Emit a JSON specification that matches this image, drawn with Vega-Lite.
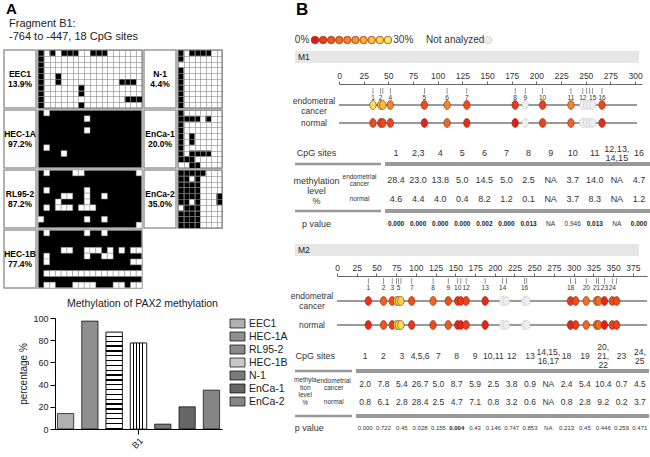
{
"$schema":"https://vega.github.io/schema/vega-lite/v6.json",
"background":"white",
"padding":{"left":3,"top":1,"right":0,"bottom":0},
"config":{"font":"Liberation Sans","view":{"stroke":null},"concat":{"spacing":0},"axis":{"labelFont":"Liberation Sans","titleFont":"Liberation Sans"},"legend":{"labelFont":"Liberation Sans"},"title":{"font":"Liberation Sans"}},
"datasets":{
"m1":[
{"site":1,"pos":34.4,"lab":"1","ec":28.4,"nm":4.6},
{"site":2,"pos":42.2,"lab":"2","ec":23.0,"nm":4.4},
{"site":3,"pos":44.4,"lab":"","ec":23.0,"nm":4.4},
{"site":4,"pos":52,"lab":"4","ec":13.8,"nm":4.0},
{"site":5,"pos":86.5,"lab":"5","ec":5.0,"nm":0.4},
{"site":6,"pos":109.5,"lab":"6","ec":14.5,"nm":8.2},
{"site":7,"pos":129.5,"lab":"7","ec":5.0,"nm":1.2},
{"site":8,"pos":178.5,"lab":"8","ec":2.5,"nm":0.1},
{"site":9,"pos":188.7,"lab":"9","ec":null,"nm":null},
{"site":10,"pos":206.3,"lab":"10","ec":3.7,"nm":3.7},
{"site":11,"pos":235,"lab":"11","ec":14.0,"nm":8.3},
{"site":12,"pos":247,"lab":"12","ec":null,"nm":null},
{"site":13,"pos":251,"lab":"","ec":null,"nm":null},
{"site":14,"pos":254,"lab":"","ec":null,"nm":null},
{"site":15,"pos":257,"lab":"15","ec":null,"nm":null},
{"site":16,"pos":266.5,"lab":"16","ec":4.7,"nm":1.2}],
"m2":[
{"site":1,"pos":39.7,"lab":"1","ec":2.0,"nm":0.8},
{"site":2,"pos":59,"lab":"2","ec":7.8,"nm":6.1},
{"site":3,"pos":70,"lab":"3","ec":5.4,"nm":2.8},
{"site":4,"pos":75.6,"lab":"","ec":26.7,"nm":28.4},
{"site":5,"pos":78,"lab":"5","ec":26.7,"nm":28.4},
{"site":6,"pos":81,"lab":"","ec":26.7,"nm":28.4},
{"site":7,"pos":94.7,"lab":"7","ec":5.0,"nm":2.5},
{"site":8,"pos":121.8,"lab":"8","ec":8.7,"nm":4.7},
{"site":9,"pos":141,"lab":"9","ec":5.9,"nm":7.1},
{"site":10,"pos":153,"lab":"10","ec":2.5,"nm":0.8},
{"site":11,"pos":157,"lab":"","ec":2.5,"nm":0.8},
{"site":12,"pos":163.7,"lab":"12","ec":3.8,"nm":3.2},
{"site":13,"pos":187.8,"lab":"13","ec":0.9,"nm":0.6},
{"site":14,"pos":210,"lab":"14","ec":null,"nm":null},
{"site":15,"pos":214.8,"lab":"","ec":null,"nm":null},
{"site":16,"pos":237.7,"lab":"16","ec":null,"nm":null},
{"site":17,"pos":240.6,"lab":"","ec":null,"nm":null},
{"site":18,"pos":296,"lab":"18","ec":2.4,"nm":0.8},
{"site":19,"pos":302.5,"lab":"","ec":5.4,"nm":2.8},
{"site":20,"pos":316,"lab":"20","ec":10.4,"nm":9.2},
{"site":21,"pos":329,"lab":"21","ec":10.4,"nm":9.2},
{"site":22,"pos":331.6,"lab":"","ec":10.4,"nm":9.2},
{"site":23,"pos":339,"lab":"23","ec":0.7,"nm":0.2},
{"site":24,"pos":349,"lab":"24","ec":4.5,"nm":3.7},
{"site":25,"pos":354.5,"lab":"","ec":4.5,"nm":3.7}],
"t1":[
{"s":"1","ec":"28.4","nm":"4.6","p":"0.000","b":true},
{"s":"2,3","ec":"23.0","nm":"4.4","p":"0.000","b":true},
{"s":"4","ec":"13.8","nm":"4.0","p":"0.000","b":true},
{"s":"5","ec":"5.0","nm":"0.4","p":"0.000","b":true},
{"s":"6","ec":"14.5","nm":"8.2","p":"0.002","b":true},
{"s":"7","ec":"5.0","nm":"1.2","p":"0.000","b":true},
{"s":"8","ec":"2.5","nm":"0.1","p":"0.013","b":true},
{"s":"9","ec":"NA","nm":"NA","p":"NA","b":false},
{"s":"10","ec":"3.7","nm":"3.7","p":"0.946","b":false},
{"s":"11","ec":"14.0","nm":"8.3","p":"0.013","b":true},
{"s":"12,13,\n14,15","ec":"NA","nm":"NA","p":"NA","b":false},
{"s":"16","ec":"4.7","nm":"1.2","p":"0.000","b":true}],
"t2":[
{"s":"1","ec":"2.0","nm":"0.8","p":"0.000","b":false},
{"s":"2","ec":"7.8","nm":"6.1","p":"0.722","b":false},
{"s":"3","ec":"5.4","nm":"2.8","p":"0.45","b":false},
{"s":"4,5,6","ec":"26.7","nm":"28.4","p":"0.028","b":false},
{"s":"7","ec":"5.0","nm":"2.5","p":"0.155","b":false},
{"s":"8","ec":"8.7","nm":"4.7","p":"0.004","b":true},
{"s":"9","ec":"5.9","nm":"7.1","p":"0.43","b":false},
{"s":"10,11","ec":"2.5","nm":"0.8","p":"0.146","b":false},
{"s":"12","ec":"3.8","nm":"3.2","p":"0.747","b":false},
{"s":"13","ec":"0.9","nm":"0.6","p":"0.853","b":false},
{"s":"14,15,\n16,17","ec":"NA","nm":"NA","p":"NA","b":false},
{"s":"18","ec":"2.4","nm":"0.8","p":"0.213","b":false},
{"s":"19","ec":"5.4","nm":"2.8","p":"0.45","b":false},
{"s":"20,\n21,\n22","ec":"10.4","nm":"9.2","p":"0.446","b":false},
{"s":"23","ec":"0.7","nm":"0.2","p":"0.259","b":false},
{"s":"24,\n25","ec":"4.5","nm":"3.7","p":"0.471","b":false}]
},
"spacing":2,
"resolve":{"scale":{"color":"independent"},"legend":{"color":"independent"}},
"hconcat":[
{
"spacing":9,
"resolve":{"scale":{"color":"independent"},"legend":{"color":"independent"}},
"vconcat":[
{"spacing":0,"vconcat":[
{"width":219,"height":48,"data":{"values":[{}]},
"layer":[
{"mark":{"type":"text","fontSize":15,"fontWeight":"bold","align":"left","color":"black"},"encoding":{"x":{"datum":2,"type":"quantitative","scale":{"domain":[0,219],"nice":false,"zero":false},"axis":null},"y":{"datum":8,"type":"quantitative","scale":{"domain":[0,48],"reverse":true,"nice":false,"zero":false},"axis":null},"text":{"value":"A"}}},
{"mark":{"type":"text","fontSize":11,"align":"left","color":"#222"},"encoding":{"x":{"datum":5,"type":"quantitative","axis":null},"y":{"datum":22.5,"type":"quantitative","axis":null},"text":{"value":"Fragment B1:"}}},
{"mark":{"type":"text","fontSize":11,"align":"left","color":"#222"},"encoding":{"x":{"datum":5,"type":"quantitative","axis":null},"y":{"datum":36,"type":"quantitative","axis":null},"text":{"value":"-764 to -447, 18 CpG sites"}}}
]},
{"spacing":0,"hconcat":[
{"spacing":0,"vconcat":[
{"spacing":0,"hconcat":[
{"width":32,"height":58,"view":{"stroke":"#999","strokeWidth":1.5},"data":{"values":[{"t":"EEC1\n13.9%"}]},"mark":{"type":"text","lineBreak":"\n","fontWeight":"bold","fontSize":8.5,"lineHeight":10,"color":"black","dy":-5},"encoding":{"text":{"field":"t"}}},
{"width":104,"height":58,"view":{"stroke":"#999","strokeWidth":1.5},
"data":{"values":[{"c":1,"r":1},{"c":1,"r":2},{"c":1,"r":3},{"c":1,"r":4},{"c":1,"r":5},{"c":1,"r":6},{"c":1,"r":7},{"c":1,"r":8},{"c":1,"r":9},{"c":1,"r":10},{"c":3,"r":1},{"c":5,"r":1},{"c":6,"r":1},{"c":7,"r":1},{"c":10,"r":1},{"c":11,"r":1},{"c":12,"r":1},{"c":4,"r":5},{"c":4,"r":6},{"c":15,"r":6},{"c":16,"r":6},{"c":17,"r":6},{"c":8,"r":7},{"c":8,"r":8},{"c":16,"r":9},{"c":17,"r":9},{"c":18,"r":9},{"c":8,"r":10}]},
"mark":{"type":"rect","fill":"black"},
"encoding":{"x":{"field":"c","type":"ordinal","scale":{"domain":[1,2,3,4,5,6,7,8,9,10,11,12,13,14,15,16,17,18],"paddingInner":0,"paddingOuter":0},"axis":{"grid":true,"tickBand":"extent","labels":false,"ticks":false,"domain":false,"title":null,"gridColor":"#888","gridWidth":0.6}},
"y":{"field":"r","type":"ordinal","scale":{"domain":[1,2,3,4,5,6,7,8,9,10],"paddingInner":0,"paddingOuter":0},"axis":{"grid":true,"tickBand":"extent","labels":false,"ticks":false,"domain":false,"title":null,"gridColor":"#888","gridWidth":0.6}}}}
]},
{"spacing":0,"hconcat":[
{"width":32,"height":58,"view":{"stroke":"#999","strokeWidth":1.5},"data":{"values":[{"t":"HEC-1A\n97.2%"}]},"mark":{"type":"text","lineBreak":"\n","fontWeight":"bold","fontSize":8.5,"lineHeight":10,"color":"black","dy":-5},"encoding":{"text":{"field":"t"}}},
{"width":104,"height":58,"view":{"stroke":"#999","strokeWidth":1.5,"fill":"black"},
"data":{"values":[{"c":2,"r":1},{"c":9,"r":2},{"c":9,"r":4},{"c":2,"r":7},{"c":5,"r":8}]},
"mark":{"type":"rect","fill":"white","stroke":"#999","strokeWidth":0.5},
"encoding":{"x":{"field":"c","type":"ordinal","scale":{"domain":[1,2,3,4,5,6,7,8,9,10,11,12,13,14,15,16,17,18],"paddingInner":0,"paddingOuter":0},"axis":null},
"y":{"field":"r","type":"ordinal","scale":{"domain":[1,2,3,4,5,6,7,8,9,10],"paddingInner":0,"paddingOuter":0},"axis":null}}}
]},
{"spacing":0,"hconcat":[
{"width":32,"height":58,"view":{"stroke":"#999","strokeWidth":1.5},"data":{"values":[{"t":"RL95-2\n87.2%"}]},"mark":{"type":"text","lineBreak":"\n","fontWeight":"bold","fontSize":8.5,"lineHeight":10,"color":"black","dy":-5},"encoding":{"text":{"field":"t"}}},
{"width":104,"height":58,"view":{"stroke":"#999","strokeWidth":1.5,"fill":"black"},
"data":{"values":[{"c":2,"r":1},{"c":7,"r":1},{"c":8,"r":1},{"c":18,"r":1},{"c":2,"r":4},{"c":9,"r":4},{"c":5,"r":5},{"c":6,"r":5},{"c":9,"r":5},{"c":12,"r":5},{"c":4,"r":6},{"c":9,"r":6},{"c":2,"r":7},{"c":4,"r":7},{"c":5,"r":7},{"c":6,"r":7},{"c":8,"r":7},{"c":9,"r":7},{"c":10,"r":7},{"c":1,"r":9},{"c":9,"r":9},{"c":12,"r":9},{"c":18,"r":10}]},
"mark":{"type":"rect","fill":"white","stroke":"#999","strokeWidth":0.5},
"encoding":{"x":{"field":"c","type":"ordinal","scale":{"domain":[1,2,3,4,5,6,7,8,9,10,11,12,13,14,15,16,17,18],"paddingInner":0,"paddingOuter":0},"axis":null},
"y":{"field":"r","type":"ordinal","scale":{"domain":[1,2,3,4,5,6,7,8,9,10],"paddingInner":0,"paddingOuter":0},"axis":null}}}
]},
{"spacing":0,"hconcat":[
{"width":32,"height":58,"view":{"stroke":"#999","strokeWidth":1.5},"data":{"values":[{"t":"HEC-1B\n77.4%"}]},"mark":{"type":"text","lineBreak":"\n","fontWeight":"bold","fontSize":8.5,"lineHeight":10,"color":"black","dy":-5},"encoding":{"text":{"field":"t"}}},
{"width":104,"height":58,"view":{"stroke":"#999","strokeWidth":1.5,"fill":"black"},
"data":{"values":[{"c":2,"r":1},{"c":9,"r":1},{"c":12,"r":1},
{"c":5,"r":4},{"c":6,"r":4},{"c":9,"r":4},{"c":10,"r":4},{"c":11,"r":4},{"c":13,"r":4},{"c":15,"r":4},{"c":17,"r":4},{"c":18,"r":4},
{"c":2,"r":5},{"c":9,"r":5},{"c":12,"r":5},{"c":13,"r":5},
{"c":2,"r":6},{"c":17,"r":6},{"c":18,"r":6},
{"c":2,"r":8},{"c":3,"r":8},{"c":4,"r":8},{"c":5,"r":8},{"c":6,"r":8},{"c":7,"r":8},{"c":8,"r":8},{"c":9,"r":8},{"c":10,"r":8},{"c":11,"r":8},{"c":12,"r":8},{"c":13,"r":8},{"c":14,"r":8},{"c":15,"r":8},{"c":16,"r":8},{"c":17,"r":8},{"c":18,"r":8},
{"c":2,"r":10},{"c":3,"r":10},{"c":7,"r":10},{"c":8,"r":10},{"c":9,"r":10},{"c":10,"r":10},{"c":14,"r":10},{"c":15,"r":10},{"c":17,"r":10},{"c":18,"r":10}]},
"mark":{"type":"rect","fill":"white","stroke":"#999","strokeWidth":0.5},
"encoding":{"x":{"field":"c","type":"ordinal","scale":{"domain":[1,2,3,4,5,6,7,8,9,10,11,12,13,14,15,16,17,18],"paddingInner":0,"paddingOuter":0},"axis":null},
"y":{"field":"r","type":"ordinal","scale":{"domain":[1,2,3,4,5,6,7,8,9,10],"paddingInner":0,"paddingOuter":0},"axis":null}}}
]}
]},
{"spacing":0,"vconcat":[
{"spacing":0,"hconcat":[
{"width":32,"height":58,"view":{"stroke":"#999","strokeWidth":1.5},"data":{"values":[{"t":"N-1\n4.4%"}]},"mark":{"type":"text","lineBreak":"\n","fontWeight":"bold","fontSize":8.5,"lineHeight":10,"color":"black","dy":-5},"encoding":{"text":{"field":"t"}}},
{"width":44,"height":58,"view":{"stroke":"#999","strokeWidth":1.5},
"data":{"values":[{"c":1,"r":1},{"c":1,"r":2},{"c":1,"r":4},{"c":1,"r":5},{"c":1,"r":6},{"c":1,"r":7},{"c":1,"r":8},{"c":1,"r":9},{"c":1,"r":10},{"c":3,"r":1},{"c":4,"r":1},{"c":5,"r":1},{"c":6,"r":1}]},
"mark":{"type":"rect","fill":"black"},
"encoding":{"x":{"field":"c","type":"ordinal","scale":{"domain":[1,2,3,4,5,6,7,8],"paddingInner":0,"paddingOuter":0},"axis":{"grid":true,"tickBand":"extent","labels":false,"ticks":false,"domain":false,"title":null,"gridColor":"#888","gridWidth":0.6}},
"y":{"field":"r","type":"ordinal","scale":{"domain":[1,2,3,4,5,6,7,8,9,10],"paddingInner":0,"paddingOuter":0},"axis":{"grid":true,"tickBand":"extent","labels":false,"ticks":false,"domain":false,"title":null,"gridColor":"#888","gridWidth":0.6}}}}
]},
{"spacing":0,"hconcat":[
{"width":32,"height":58,"view":{"stroke":"#999","strokeWidth":1.5},"data":{"values":[{"t":"EnCa-1\n20.0%"}]},"mark":{"type":"text","lineBreak":"\n","fontWeight":"bold","fontSize":8.5,"lineHeight":10,"color":"black","dy":-5},"encoding":{"text":{"field":"t"}}},
{"width":44,"height":58,"view":{"stroke":"#999","strokeWidth":1.5},
"data":{"values":[{"c":1,"r":1},{"c":1,"r":2},{"c":1,"r":3},{"c":1,"r":4},{"c":1,"r":5},{"c":1,"r":6},{"c":1,"r":7},{"c":1,"r":8},{"c":1,"r":9},{"c":2,"r":2},{"c":3,"r":2},{"c":4,"r":2},{"c":6,"r":2},{"c":3,"r":5},{"c":3,"r":6},{"c":3,"r":8},{"c":4,"r":8},{"c":5,"r":8},{"c":6,"r":8},{"c":2,"r":9},{"c":3,"r":9},{"c":3,"r":10},{"c":4,"r":10}]},
"mark":{"type":"rect","fill":"black"},
"encoding":{"x":{"field":"c","type":"ordinal","scale":{"domain":[1,2,3,4,5,6,7,8],"paddingInner":0,"paddingOuter":0},"axis":{"grid":true,"tickBand":"extent","labels":false,"ticks":false,"domain":false,"title":null,"gridColor":"#888","gridWidth":0.6}},
"y":{"field":"r","type":"ordinal","scale":{"domain":[1,2,3,4,5,6,7,8,9,10],"paddingInner":0,"paddingOuter":0},"axis":{"grid":true,"tickBand":"extent","labels":false,"ticks":false,"domain":false,"title":null,"gridColor":"#888","gridWidth":0.6}}}}
]},
{"spacing":0,"hconcat":[
{"width":32,"height":58,"view":{"stroke":"#999","strokeWidth":1.5},"data":{"values":[{"t":"EnCa-2\n35.0%"}]},"mark":{"type":"text","lineBreak":"\n","fontWeight":"bold","fontSize":8.5,"lineHeight":10,"color":"black","dy":-5},"encoding":{"text":{"field":"t"}}},
{"width":44,"height":58,"view":{"stroke":"#999","strokeWidth":1.5},
"data":{"values":[{"c":1,"r":1},{"c":1,"r":2},{"c":1,"r":3},{"c":1,"r":4},{"c":1,"r":5},{"c":1,"r":6},{"c":1,"r":8},{"c":1,"r":9},{"c":1,"r":10},
{"c":2,"r":1},{"c":2,"r":2},{"c":2,"r":3},{"c":2,"r":4},{"c":2,"r":5},{"c":2,"r":6},{"c":2,"r":7},{"c":2,"r":8},{"c":2,"r":9},{"c":2,"r":10},
{"c":3,"r":1},{"c":3,"r":3},{"c":3,"r":4},{"c":3,"r":5},{"c":3,"r":7},{"c":3,"r":8},{"c":3,"r":9},{"c":3,"r":10},
{"c":4,"r":1},{"c":4,"r":2},{"c":4,"r":3},{"c":4,"r":4},{"c":4,"r":5},{"c":4,"r":6},{"c":4,"r":7},{"c":4,"r":8},{"c":4,"r":9},{"c":4,"r":10},
{"c":5,"r":1},{"c":8,"r":5},{"c":8,"r":6}]},
"mark":{"type":"rect","fill":"black"},
"encoding":{"x":{"field":"c","type":"ordinal","scale":{"domain":[1,2,3,4,5,6,7,8],"paddingInner":0,"paddingOuter":0},"axis":{"grid":true,"tickBand":"extent","labels":false,"ticks":false,"domain":false,"title":null,"gridColor":"#888","gridWidth":0.6}},
"y":{"field":"r","type":"ordinal","scale":{"domain":[1,2,3,4,5,6,7,8,9,10],"paddingInner":0,"paddingOuter":0},"axis":{"grid":true,"tickBand":"extent","labels":false,"ticks":false,"domain":false,"title":null,"gridColor":"#888","gridWidth":0.6}}}}
]}
]}
]}
]},
{"spacing":0,
"resolve":{"scale":{"color":"independent"},"legend":{"color":"independent"}},
"hconcat":[
{"width":14,"height":10,"data":{"values":[]},"mark":"point","encoding":{}},
{"width":167,"height":111,
"title":{"text":"Methylation of PAX2 methylation","fontSize":10.5,"fontWeight":"normal","anchor":"start","dx":48,"offset":5,"color":"#222"},
"data":{"values":[{"frag":"B1","cell":"EEC1","v":13.9},{"frag":"B1","cell":"HEC-1A","v":97.2},{"frag":"B1","cell":"RL95-2","v":87.2},{"frag":"B1","cell":"HEC-1B","v":77.4},{"frag":"B1","cell":"N-1","v":4.4},{"frag":"B1","cell":"EnCa-1","v":20.0},{"frag":"B1","cell":"EnCa-2","v":35.0}]},
"encoding":{
"x":{"field":"frag","type":"nominal","scale":{"paddingInner":0,"paddingOuter":0},"axis":{"title":null,"labelAngle":-45,"labelFontSize":9,"labelColor":"#222","domainColor":"black","tickColor":"black","labelPadding":2}},
"xOffset":{"field":"cell","type":"nominal","sort":null,"scale":{"domain":["EEC1","HEC-1A","RL95-2","HEC-1B","N-1","EnCa-1","EnCa-2"],"paddingInner":0.33,"paddingOuter":0.1}},
"y":{"field":"v","type":"quantitative","scale":{"domain":[0,100],"nice":false},"axis":{"title":"percentage %","values":[0,20,40,60,80,100],"grid":false,"labelFontSize":9,"titleFontSize":10,"titleFontWeight":"normal","domainColor":"black","tickColor":"black","labelColor":"#222","titleColor":"#222","titlePadding":4}}},
"layer":[
{"mark":{"type":"bar","stroke":"black","strokeWidth":0.7},
"encoding":{"color":{"field":"cell","type":"nominal","sort":null,
"scale":{"domain":["EEC1","HEC-1A","RL95-2","HEC-1B","N-1","EnCa-1","EnCa-2"],"range":["#b0b0b0","#8f8f8f","#8a8a8a","#c8c8c8","#7a7a7a","#666666","#858585"]},
"legend":{"title":null,"symbolType":"M-1.5,-0.9H1.5V0.9H-1.5Z","symbolSize":100,"labelFontSize":10.5,"labelColor":"#222","rowPadding":0,"offset":10,"labelOffset":6,"symbolStrokeColor":"black","symbolStrokeWidth":0.7}}}},
{"transform":[{"filter":"datum.cell == 'RL95-2'"}],
"mark":{"type":"bar","stroke":"black","strokeWidth":0.7,"fill":{"gradient":"linear","x1":0,"y1":0,"x2":0,"y2":1,"stops":[
{"offset":0,"color":"#fff"},{"offset":0.036,"color":"#fff"},{"offset":0.036,"color":"#000"},{"offset":0.05,"color":"#000"},
{"offset":0.05,"color":"#fff"},{"offset":0.086,"color":"#fff"},{"offset":0.086,"color":"#000"},{"offset":0.1,"color":"#000"},
{"offset":0.1,"color":"#fff"},{"offset":0.136,"color":"#fff"},{"offset":0.136,"color":"#000"},{"offset":0.15,"color":"#000"},
{"offset":0.15,"color":"#fff"},{"offset":0.186,"color":"#fff"},{"offset":0.186,"color":"#000"},{"offset":0.2,"color":"#000"},
{"offset":0.2,"color":"#fff"},{"offset":0.236,"color":"#fff"},{"offset":0.236,"color":"#000"},{"offset":0.25,"color":"#000"},
{"offset":0.25,"color":"#fff"},{"offset":0.286,"color":"#fff"},{"offset":0.286,"color":"#000"},{"offset":0.3,"color":"#000"},
{"offset":0.3,"color":"#fff"},{"offset":0.336,"color":"#fff"},{"offset":0.336,"color":"#000"},{"offset":0.35,"color":"#000"},
{"offset":0.35,"color":"#fff"},{"offset":0.386,"color":"#fff"},{"offset":0.386,"color":"#000"},{"offset":0.4,"color":"#000"},
{"offset":0.4,"color":"#fff"},{"offset":0.436,"color":"#fff"},{"offset":0.436,"color":"#000"},{"offset":0.45,"color":"#000"},
{"offset":0.45,"color":"#fff"},{"offset":0.486,"color":"#fff"},{"offset":0.486,"color":"#000"},{"offset":0.5,"color":"#000"},
{"offset":0.5,"color":"#fff"},{"offset":0.536,"color":"#fff"},{"offset":0.536,"color":"#000"},{"offset":0.55,"color":"#000"},
{"offset":0.55,"color":"#fff"},{"offset":0.586,"color":"#fff"},{"offset":0.586,"color":"#000"},{"offset":0.6,"color":"#000"},
{"offset":0.6,"color":"#fff"},{"offset":0.636,"color":"#fff"},{"offset":0.636,"color":"#000"},{"offset":0.65,"color":"#000"},
{"offset":0.65,"color":"#fff"},{"offset":0.686,"color":"#fff"},{"offset":0.686,"color":"#000"},{"offset":0.7,"color":"#000"},
{"offset":0.7,"color":"#fff"},{"offset":0.736,"color":"#fff"},{"offset":0.736,"color":"#000"},{"offset":0.75,"color":"#000"},
{"offset":0.75,"color":"#fff"},{"offset":0.786,"color":"#fff"},{"offset":0.786,"color":"#000"},{"offset":0.8,"color":"#000"},
{"offset":0.8,"color":"#fff"},{"offset":0.836,"color":"#fff"},{"offset":0.836,"color":"#000"},{"offset":0.85,"color":"#000"},
{"offset":0.85,"color":"#fff"},{"offset":0.886,"color":"#fff"},{"offset":0.886,"color":"#000"},{"offset":0.9,"color":"#000"},
{"offset":0.9,"color":"#fff"},{"offset":0.936,"color":"#fff"},{"offset":0.936,"color":"#000"},{"offset":0.95,"color":"#000"},
{"offset":0.95,"color":"#fff"},{"offset":0.986,"color":"#fff"},{"offset":0.986,"color":"#000"},{"offset":1,"color":"#000"}]}}},
{"transform":[{"filter":"datum.cell == 'HEC-1B'"}],
"mark":{"type":"bar","stroke":"black","strokeWidth":0.7,"fill":{"gradient":"linear","x1":0,"y1":0,"x2":1,"y2":0,"stops":[
{"offset":0,"color":"#fff"},{"offset":0.14,"color":"#fff"},{"offset":0.14,"color":"#000"},{"offset":0.2,"color":"#000"},
{"offset":0.2,"color":"#fff"},{"offset":0.34,"color":"#fff"},{"offset":0.34,"color":"#000"},{"offset":0.4,"color":"#000"},
{"offset":0.4,"color":"#fff"},{"offset":0.54,"color":"#fff"},{"offset":0.54,"color":"#000"},{"offset":0.6,"color":"#000"},
{"offset":0.6,"color":"#fff"},{"offset":0.74,"color":"#fff"},{"offset":0.74,"color":"#000"},{"offset":0.8,"color":"#000"},
{"offset":0.8,"color":"#fff"},{"offset":1,"color":"#fff"}]}}}
]}
]}
]
},
{
"spacing":0,
"vconcat":[
{"width":344,"height":50,
"layer":[
{"data":{"values":[{}]},"mark":{"type":"text","fontSize":17,"fontWeight":"bold","align":"left","color":"black"},"encoding":{"x":{"datum":-2.35,"type":"quantitative","scale":{"domain":[-2.47,40],"nice":false,"zero":false},"axis":null},"y":{"datum":9,"type":"quantitative","scale":{"domain":[0,50],"reverse":true,"nice":false,"zero":false},"axis":null},"text":{"value":"B"}}},
{"data":{"values":[{"k":0,"lvl":0},{"k":1,"lvl":3.3},{"k":2,"lvl":6.7},{"k":3,"lvl":10},{"k":4,"lvl":13.3},{"k":5,"lvl":16.7},{"k":6,"lvl":20},{"k":7,"lvl":23.3},{"k":8,"lvl":26.7},{"k":9,"lvl":30}]},
"mark":{"type":"point","shape":"circle","filled":true,"size":57,"stroke":"#8b2a12","strokeWidth":0.7,"opacity":1},
"encoding":{"x":{"field":"k","type":"quantitative","axis":null},"y":{"datum":39,"type":"quantitative","axis":null},"color":{"field":"lvl","type":"quantitative","scale":{"domain":[0,30],"range":["#e31a1c","#f28b2f","#f5eb5a"]},"legend":null}}},
{"data":{"values":[{}]},"mark":{"type":"text","fontSize":10,"color":"#333"},"encoding":{"x":{"datum":-1.6,"type":"quantitative","axis":null},"y":{"datum":39,"type":"quantitative","axis":null},"text":{"value":"0%"}}},
{"data":{"values":[{}]},"mark":{"type":"text","fontSize":10,"color":"#333"},"encoding":{"x":{"datum":10.9,"type":"quantitative","axis":null},"y":{"datum":39,"type":"quantitative","axis":null},"text":{"value":"30%"}}},
{"data":{"values":[{}]},"mark":{"type":"text","fontSize":10,"color":"#333","align":"left"},"encoding":{"x":{"datum":13.7,"type":"quantitative","axis":null},"y":{"datum":39,"type":"quantitative","axis":null},"text":{"value":"Not analyzed"}}},
{"data":{"values":[{}]},"mark":{"type":"point","shape":"circle","filled":true,"size":57,"fill":"#eeeeee","stroke":"#aaaaaa","strokeDash":[1,1],"strokeWidth":0.8,"opacity":1},"encoding":{"x":{"datum":21.4,"type":"quantitative","axis":null},"y":{"datum":39,"type":"quantitative","axis":null}}}
]},
{"spacing":15,"vconcat":[
{"spacing":8,"vconcat":[
{"width":344,"height":12,"view":{"fill":"#e6e6e6"},"data":{"values":[{}]},"mark":{"type":"text","align":"left","dx":3,"fontSize":8.5,"color":"#222"},"encoding":{"x":{"datum":0,"type":"quantitative","scale":{"domain":[0,1]},"axis":null},"text":{"value":"M1"}}},
{"spacing":0,"vconcat":[
{"spacing":0,"hconcat":[
{"width":38,"height":48,"data":{"values":[{}]},
"layer":[
{"mark":{"type":"text","lineBreak":"\n","fontSize":8.5,"color":"#333","lineHeight":10},"encoding":{"y":{"datum":17,"type":"quantitative","scale":{"domain":[0,48],"reverse":true,"nice":false,"zero":false},"axis":null},"text":{"value":"endometral\ncancer"}}},
{"mark":{"type":"text","fontSize":8.5,"color":"#333"},"encoding":{"y":{"datum":39,"type":"quantitative","axis":null},"text":{"value":"normal"}}}
]},
{"width":303,"height":48,
"encoding":{"x":{"field":"pos","type":"quantitative","scale":{"domain":[0,307],"nice":false,"zero":false},"axis":{"orient":"top","values":[0,25,50,75,100,125,150,175,200,225,250,275,300],"title":null,"labelFontSize":8.5,"labelColor":"#333","tickSize":3,"labelPadding":1,"domainColor":"#666","tickColor":"#666","domainWidth":1.2,"grid":false,"labelFlush":false,"labelOverlap":false}}},
"layer":[
{"data":{"name":"m1"},"mark":{"type":"tick","orient":"vertical","size":6,"thickness":0.8,"color":"#444"},
"encoding":{"y":{"datum":7,"type":"quantitative","scale":{"domain":[0,48],"reverse":true,"nice":false,"zero":false},"axis":null}}},
{"data":{"name":"m1"},"mark":{"type":"text","fontSize":6.5,"color":"#333"},"encoding":{"y":{"datum":14,"type":"quantitative","axis":null},"text":{"field":"lab"}}},
{"data":{"values":[{"pos":0,"pe":302}]},"mark":{"type":"rule","color":"#777","strokeWidth":1.5},"encoding":{"x2":{"field":"pe"},"y":{"datum":21,"type":"quantitative","axis":null}}},
{"data":{"values":[{"pos":0,"pe":302}]},"mark":{"type":"rule","color":"#777","strokeWidth":1.5},"encoding":{"x2":{"field":"pe"},"y":{"datum":39,"type":"quantitative","axis":null}}},
{"data":{"name":"m1"},"transform":[{"filter":"datum.ec != null"}],
"mark":{"type":"point","shape":"M0,-1A0.72,1,0,1,1,0,1A0.72,1,0,1,1,0,-1Z","filled":true,"size":80,"stroke":"#8b2a12","strokeWidth":0.6,"opacity":1},
"encoding":{"y":{"datum":21,"type":"quantitative","axis":null},"color":{"field":"ec","type":"quantitative","scale":{"domain":[0,30],"range":["#e31a1c","#f28b2f","#f5eb5a"]},"legend":null}}},
{"data":{"name":"m1"},"transform":[{"filter":"datum.nm != null"}],
"mark":{"type":"point","shape":"M0,-1A0.72,1,0,1,1,0,1A0.72,1,0,1,1,0,-1Z","filled":true,"size":80,"stroke":"#8b2a12","strokeWidth":0.6,"opacity":1},
"encoding":{"y":{"datum":39,"type":"quantitative","axis":null},"color":{"field":"nm","type":"quantitative","legend":null}}},
{"data":{"name":"m1"},"transform":[{"filter":"datum.ec == null"}],
"mark":{"type":"point","shape":"M0,-1A0.72,1,0,1,1,0,1A0.72,1,0,1,1,0,-1Z","filled":true,"size":80,"fill":"#eeeeee","stroke":"#aaaaaa","strokeWidth":0.7,"strokeDash":[1,1],"opacity":1},
"encoding":{"y":{"datum":21,"type":"quantitative","axis":null}}},
{"data":{"name":"m1"},"transform":[{"filter":"datum.nm == null"}],
"mark":{"type":"point","shape":"M0,-1A0.72,1,0,1,1,0,1A0.72,1,0,1,1,0,-1Z","filled":true,"size":80,"fill":"#eeeeee","stroke":"#aaaaaa","strokeWidth":0.7,"strokeDash":[1,1],"opacity":1},
"encoding":{"y":{"datum":39,"type":"quantitative","axis":null}}}
]}
]},
{"spacing":0,"hconcat":[
{"width":86,"height":96,"data":{"values":[{}]},
"layer":[
{"mark":{"type":"rule","color":"#999","strokeWidth":2.5},"encoding":{"y":{"datum":32,"type":"quantitative","scale":{"domain":[0,96],"reverse":true,"nice":false,"zero":false},"axis":null}}},
{"mark":{"type":"rule","color":"#999","strokeWidth":2.5},"encoding":{"y":{"datum":79,"type":"quantitative","axis":null}}},
{"mark":{"type":"text","fontSize":9,"color":"#333"},"encoding":{"x":{"datum":"a","type":"nominal","scale":{"domain":["a","b"]},"axis":null},"y":{"datum":21,"type":"quantitative","axis":null},"text":{"value":"CpG sites"}}},
{"mark":{"type":"text","fontSize":9,"color":"#333","lineBreak":"\n","lineHeight":10},"encoding":{"x":{"datum":"a","type":"nominal","axis":null},"y":{"datum":49,"type":"quantitative","axis":null},"text":{"value":"methylation\nlevel\n%"}}},
{"mark":{"type":"text","fontSize":6.5,"color":"#333","lineBreak":"\n","lineHeight":7},"encoding":{"x":{"datum":"b","type":"nominal","axis":null},"y":{"datum":44.5,"type":"quantitative","axis":null},"text":{"value":"endometrial\ncancer"}}},
{"mark":{"type":"text","fontSize":6.5,"color":"#333"},"encoding":{"x":{"datum":"b","type":"nominal","axis":null},"y":{"datum":67,"type":"quantitative","axis":null},"text":{"value":"normal"}}},
{"mark":{"type":"text","fontSize":9,"color":"#333"},"encoding":{"x":{"datum":"a","type":"nominal","axis":null},"y":{"datum":92,"type":"quantitative","axis":null},"text":{"value":"p value"}}}
]},
{"width":265,"height":96,"data":{"name":"t1"},
"layer":[
{"mark":{"type":"rule","color":"#999","strokeWidth":2.5},"encoding":{"y":{"datum":32,"type":"quantitative","scale":{"domain":[0,96],"reverse":true,"nice":false,"zero":false},"axis":null}}},
{"mark":{"type":"rule","color":"#999","strokeWidth":2.5},"encoding":{"y":{"datum":79,"type":"quantitative","axis":null}}},
{"transform":[{"filter":"indexof(datum.s, '\\n') < 0"}],"mark":{"type":"text","fontSize":9,"color":"#333"},"encoding":{"x":{"field":"s","type":"nominal","sort":null,"scale":{"domain":["1","2,3","4","5","6","7","8","9","10","11","12,13,\n14,15","16"],"paddingInner":0,"paddingOuter":0},"axis":null},"y":{"datum":21,"type":"quantitative","axis":null},"text":{"field":"s"}}},
{"transform":[{"filter":"indexof(datum.s, '\\n') >= 0"}],"mark":{"type":"text","fontSize":9,"color":"#333","lineBreak":"\n","lineHeight":9.5},"encoding":{"x":{"field":"s","type":"nominal","sort":null,"axis":null},"y":{"datum":16.5,"type":"quantitative","axis":null},"text":{"field":"s"}}},
{"mark":{"type":"text","fontSize":9,"color":"#333"},"encoding":{"x":{"field":"s","type":"nominal","sort":null,"axis":null},"y":{"datum":48,"type":"quantitative","axis":null},"text":{"field":"ec"}}},
{"mark":{"type":"text","fontSize":9,"color":"#333"},"encoding":{"x":{"field":"s","type":"nominal","sort":null,"axis":null},"y":{"datum":67,"type":"quantitative","axis":null},"text":{"field":"nm"}}},
{"transform":[{"filter":"datum.b"}],"mark":{"type":"text","fontSize":6.5,"color":"#222","fontWeight":"bold"},"encoding":{"x":{"field":"s","type":"nominal","sort":null,"axis":null},"y":{"datum":92,"type":"quantitative","axis":null},"text":{"field":"p"}}},
{"transform":[{"filter":"!datum.b"}],"mark":{"type":"text","fontSize":6.5,"color":"#333"},"encoding":{"x":{"field":"s","type":"nominal","sort":null,"axis":null},"y":{"datum":92,"type":"quantitative","axis":null},"text":{"field":"p"}}}
]}
]}
]}
]},
{"spacing":7,"vconcat":[
{"width":344,"height":12,"view":{"fill":"#e6e6e6"},"data":{"values":[{}]},"mark":{"type":"text","align":"left","dx":3,"fontSize":8.5,"color":"#222"},"encoding":{"x":{"datum":0,"type":"quantitative","scale":{"domain":[0,1]},"axis":null},"text":{"value":"M2"}}},
{"spacing":0,"vconcat":[
{"spacing":0,"hconcat":[
{"width":34,"height":60,"data":{"values":[{}]},
"layer":[
{"mark":{"type":"text","lineBreak":"\n","fontSize":8.5,"color":"#333","lineHeight":10},"encoding":{"y":{"datum":20,"type":"quantitative","scale":{"domain":[0,60],"reverse":true,"nice":false,"zero":false},"axis":null},"text":{"value":"endometral\ncancer"}}},
{"mark":{"type":"text","fontSize":8.5,"color":"#333"},"encoding":{"y":{"datum":49,"type":"quantitative","axis":null},"text":{"value":"normal"}}}
]},
{"width":310,"height":60,
"encoding":{"x":{"field":"pos","type":"quantitative","scale":{"domain":[0,393],"nice":false,"zero":false},"axis":{"orient":"top","values":[0,25,50,75,100,125,150,175,200,225,250,275,300,325,350,375],"title":null,"labelFontSize":8.5,"labelColor":"#333","tickSize":3,"labelPadding":1,"domainColor":"#666","tickColor":"#666","domainWidth":1.2,"grid":false,"labelFlush":false,"labelOverlap":false}}},
"layer":[
{"data":{"name":"m2"},"mark":{"type":"tick","orient":"vertical","size":6,"thickness":0.8,"color":"#444"},
"encoding":{"y":{"datum":5,"type":"quantitative","scale":{"domain":[0,60],"reverse":true,"nice":false,"zero":false},"axis":null}}},
{"data":{"name":"m2"},"mark":{"type":"text","fontSize":6.5,"color":"#333"},"encoding":{"y":{"datum":11.5,"type":"quantitative","axis":null},"text":{"field":"lab"}}},
{"data":{"values":[{"pos":0,"pe":393}]},"mark":{"type":"rule","color":"#777","strokeWidth":1.5},"encoding":{"x2":{"field":"pe"},"y":{"datum":25,"type":"quantitative","axis":null}}},
{"data":{"values":[{"pos":0,"pe":393}]},"mark":{"type":"rule","color":"#777","strokeWidth":1.5},"encoding":{"x2":{"field":"pe"},"y":{"datum":49,"type":"quantitative","axis":null}}},
{"data":{"name":"m2"},"transform":[{"filter":"datum.ec != null"}],
"mark":{"type":"point","shape":"M0,-1A0.72,1,0,1,1,0,1A0.72,1,0,1,1,0,-1Z","filled":true,"size":80,"stroke":"#8b2a12","strokeWidth":0.6,"opacity":1},
"encoding":{"y":{"datum":25,"type":"quantitative","axis":null},"color":{"field":"ec","type":"quantitative","scale":{"domain":[0,30],"range":["#e31a1c","#f28b2f","#f5eb5a"]},"legend":null}}},
{"data":{"name":"m2"},"transform":[{"filter":"datum.nm != null"}],
"mark":{"type":"point","shape":"M0,-1A0.72,1,0,1,1,0,1A0.72,1,0,1,1,0,-1Z","filled":true,"size":80,"stroke":"#8b2a12","strokeWidth":0.6,"opacity":1},
"encoding":{"y":{"datum":49,"type":"quantitative","axis":null},"color":{"field":"nm","type":"quantitative","legend":null}}},
{"data":{"name":"m2"},"transform":[{"filter":"datum.ec == null"}],
"mark":{"type":"point","shape":"M0,-1A0.72,1,0,1,1,0,1A0.72,1,0,1,1,0,-1Z","filled":true,"size":80,"fill":"#eeeeee","stroke":"#aaaaaa","strokeWidth":0.7,"strokeDash":[1,1],"opacity":1},
"encoding":{"y":{"datum":25,"type":"quantitative","axis":null}}},
{"data":{"name":"m2"},"transform":[{"filter":"datum.nm == null"}],
"mark":{"type":"point","shape":"M0,-1A0.72,1,0,1,1,0,1A0.72,1,0,1,1,0,-1Z","filled":true,"size":80,"fill":"#eeeeee","stroke":"#aaaaaa","strokeWidth":0.7,"strokeDash":[1,1],"opacity":1},
"encoding":{"y":{"datum":49,"type":"quantitative","axis":null}}}
]}
]},
{"spacing":0,"hconcat":[
{"width":57,"height":96,"data":{"values":[{}]},
"layer":[
{"mark":{"type":"rule","color":"#999","strokeWidth":2.5},"encoding":{"y":{"datum":35,"type":"quantitative","scale":{"domain":[0,96],"reverse":true,"nice":false,"zero":false},"axis":null}}},
{"mark":{"type":"rule","color":"#999","strokeWidth":2.5},"encoding":{"y":{"datum":80,"type":"quantitative","axis":null}}},
{"mark":{"type":"text","fontSize":9,"color":"#333","dx":6},"encoding":{"x":{"datum":"a","type":"nominal","scale":{"domain":["a","b"]},"axis":null},"y":{"datum":20,"type":"quantitative","axis":null},"text":{"value":"CpG sites"}}},
{"mark":{"type":"text","fontSize":6.5,"color":"#333","lineBreak":"\n","lineHeight":7.5,"dx":-4},"encoding":{"x":{"datum":"a","type":"nominal","axis":null},"y":{"datum":44,"type":"quantitative","axis":null},"text":{"value":"methyla\ntion\nlevel\n%"}}},
{"mark":{"type":"text","fontSize":6.5,"color":"#333","lineBreak":"\n","lineHeight":7,"dx":-4},"encoding":{"x":{"datum":"b","type":"nominal","axis":null},"y":{"datum":44.5,"type":"quantitative","axis":null},"text":{"value":"endometrial\ncancer"}}},
{"mark":{"type":"text","fontSize":6.5,"color":"#333","dx":-4},"encoding":{"x":{"datum":"b","type":"nominal","axis":null},"y":{"datum":66,"type":"quantitative","axis":null},"text":{"value":"normal"}}},
{"mark":{"type":"text","fontSize":9,"color":"#333"},"encoding":{"x":{"datum":"a","type":"nominal","axis":null},"y":{"datum":92,"type":"quantitative","axis":null},"text":{"value":"p value"}}}
]},
{"width":293,"height":96,"data":{"name":"t2"},
"layer":[
{"mark":{"type":"rule","color":"#999","strokeWidth":2.5},"encoding":{"y":{"datum":35,"type":"quantitative","scale":{"domain":[0,96],"reverse":true,"nice":false,"zero":false},"axis":null}}},
{"mark":{"type":"rule","color":"#999","strokeWidth":2.5},"encoding":{"y":{"datum":80,"type":"quantitative","axis":null}}},
{"transform":[{"filter":"indexof(datum.s, '\\n') < 0"}],"mark":{"type":"text","fontSize":8.5,"color":"#333"},"encoding":{"x":{"field":"s","type":"nominal","sort":null,"scale":{"domain":["1","2","3","4,5,6","7","8","9","10,11","12","13","14,15,\n16,17","18","19","20,\n21,\n22","23","24,\n25"],"paddingInner":0,"paddingOuter":0},"axis":null},"y":{"datum":20,"type":"quantitative","axis":null},"text":{"field":"s"}}},
{"transform":[{"filter":"length(split(datum.s, '\\n')) == 2"}],"mark":{"type":"text","fontSize":8.5,"color":"#333","lineBreak":"\n","lineHeight":9},"encoding":{"x":{"field":"s","type":"nominal","sort":null,"axis":null},"y":{"datum":15.5,"type":"quantitative","axis":null},"text":{"field":"s"}}},
{"transform":[{"filter":"length(split(datum.s, '\\n')) == 3"}],"mark":{"type":"text","fontSize":8.5,"color":"#333","lineBreak":"\n","lineHeight":9},"encoding":{"x":{"field":"s","type":"nominal","sort":null,"axis":null},"y":{"datum":11,"type":"quantitative","axis":null},"text":{"field":"s"}}},
{"mark":{"type":"text","fontSize":8.5,"color":"#333"},"encoding":{"x":{"field":"s","type":"nominal","sort":null,"axis":null},"y":{"datum":48,"type":"quantitative","axis":null},"text":{"field":"ec"}}},
{"mark":{"type":"text","fontSize":8.5,"color":"#333"},"encoding":{"x":{"field":"s","type":"nominal","sort":null,"axis":null},"y":{"datum":66,"type":"quantitative","axis":null},"text":{"field":"nm"}}},
{"transform":[{"filter":"datum.b"}],"mark":{"type":"text","fontSize":6,"color":"#222","fontWeight":"bold"},"encoding":{"x":{"field":"s","type":"nominal","sort":null,"axis":null},"y":{"datum":92,"type":"quantitative","axis":null},"text":{"field":"p"}}},
{"transform":[{"filter":"!datum.b"}],"mark":{"type":"text","fontSize":6,"color":"#333"},"encoding":{"x":{"field":"s","type":"nominal","sort":null,"axis":null},"y":{"datum":92,"type":"quantitative","axis":null},"text":{"field":"p"}}}
]}
]}
]}
]}
]}
]}
]
}
